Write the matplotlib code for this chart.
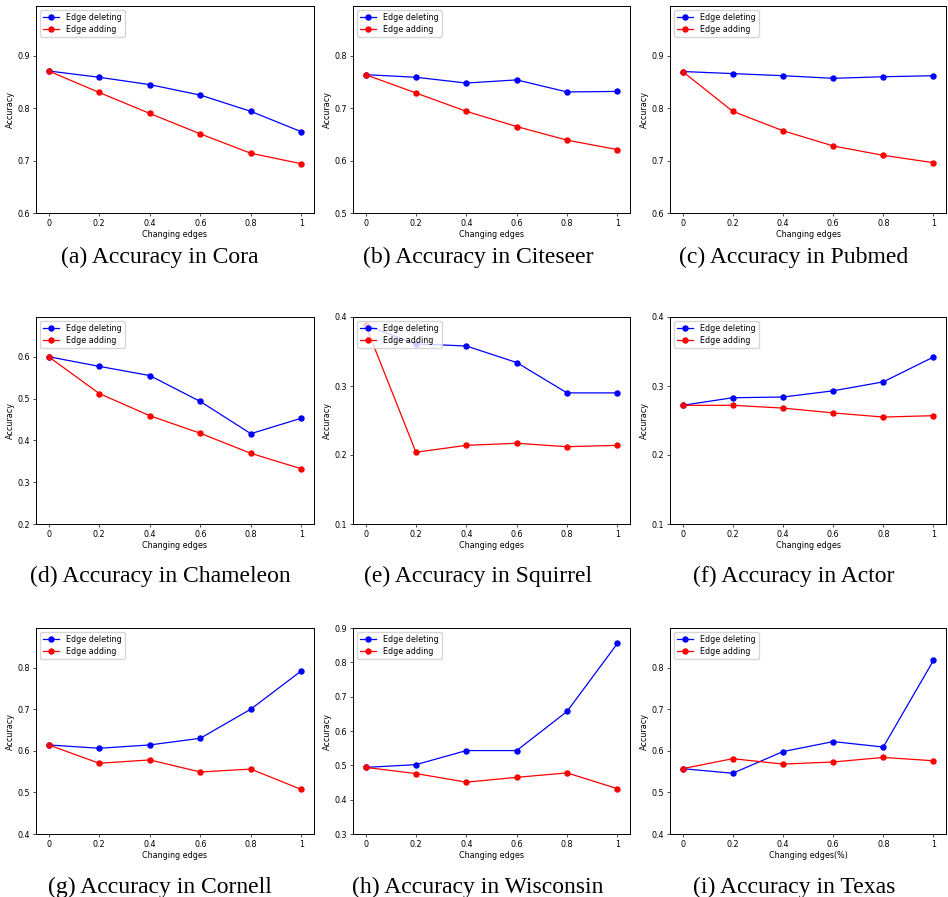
import matplotlib
matplotlib.use("Agg")
import matplotlib.pyplot as plt

x = [0, 0.2, 0.4, 0.6, 0.8, 1]
xtick_labels = ["0", "0.2", "0.4", "0.6", "0.8", "1"]

datasets = ["Cora", "Citeseer", "Pubmed", "Chameleon", "Squirrel", "Actor",
            "Cornell", "Wisconsin", "Texas"]
letters = ["a", "b", "c", "d", "e", "f", "g", "h", "i"]

cora_del = [0.871, 0.859, 0.845, 0.825, 0.794, 0.755]
cora_add = [0.871, 0.830, 0.790, 0.751, 0.714, 0.694]
citeseer_del = [0.764, 0.759, 0.748, 0.754, 0.731, 0.732]
citeseer_add = [0.764, 0.729, 0.694, 0.665, 0.639, 0.621]
pubmed_del = [0.870, 0.866, 0.862, 0.857, 0.860, 0.862]
pubmed_add = [0.870, 0.794, 0.757, 0.728, 0.710, 0.696]
chameleon_del = [0.600, 0.577, 0.555, 0.493, 0.416, 0.453]
chameleon_add = [0.600, 0.512, 0.459, 0.417, 0.369, 0.332]
squirrel_del = [0.388, 0.361, 0.358, 0.334, 0.290, 0.290]
squirrel_add = [0.388, 0.204, 0.214, 0.217, 0.212, 0.214]
actor_del = [0.272, 0.283, 0.284, 0.293, 0.306, 0.342]
actor_add = [0.272, 0.272, 0.268, 0.261, 0.255, 0.257]
cornell_del = [0.614, 0.606, 0.614, 0.630, 0.700, 0.792]
cornell_add = [0.614, 0.570, 0.578, 0.549, 0.556, 0.507]
wisconsin_del = [0.494, 0.502, 0.543, 0.543, 0.657, 0.855]
wisconsin_add = [0.494, 0.476, 0.451, 0.465, 0.478, 0.432]
texas_del = [0.557, 0.546, 0.598, 0.622, 0.609, 0.817]
texas_add = [0.557, 0.581, 0.568, 0.573, 0.584, 0.576]

deleting = [cora_del, citeseer_del, pubmed_del, chameleon_del, squirrel_del,
            actor_del, cornell_del, wisconsin_del, texas_del]
adding = [cora_add, citeseer_add, pubmed_add, chameleon_add, squirrel_add,
          actor_add, cornell_add, wisconsin_add, texas_add]
ylims = [(0.6, 0.995), (0.5, 0.895), (0.6, 0.995), (0.2, 0.695), (0.1, 0.4),
         (0.1, 0.4), (0.4, 0.895), (0.3, 0.9), (0.4, 0.895)]
yticks = [["0.6", "0.7", "0.8", "0.9"],
          ["0.5", "0.6", "0.7", "0.8"],
          ["0.6", "0.7", "0.8", "0.9"],
          ["0.2", "0.3", "0.4", "0.5", "0.6"],
          ["0.1", "0.2", "0.3", "0.4"],
          ["0.1", "0.2", "0.3", "0.4"],
          ["0.4", "0.5", "0.6", "0.7", "0.8"],
          ["0.3", "0.4", "0.5", "0.6", "0.7", "0.8", "0.9"],
          ["0.4", "0.5", "0.6", "0.7", "0.8"]]
xlabels = ["Changing edges"] * 8 + ["Changing edges(%)"]

W, H = 948, 897
fig = plt.figure(figsize=(W / 100, H / 100), dpi=100)

# pixel boxes of the axes (left, right) and (top, bottom)
cols = [(36, 314), (353, 630), (670, 946)]
rows = [(6, 213), (317, 524), (628, 834)]
caption_x = [160, 478, 794]
caption_y = [257, 576, 887]

for i in range(9):
    r, c = divmod(i, 3)
    x0, x1 = cols[c]
    t, b = rows[r]
    ax = fig.add_axes([x0 / W, 1 - b / H, (x1 - x0) / W, (b - t) / H])
    ax.plot(x, deleting[i], 'o-', color='blue', lw=0.9, ms=3.6, label='Edge deleting')
    ax.plot(x, adding[i], 'o-', color='red', lw=0.9, ms=3.6, label='Edge adding')
    ax.set_ylim(*ylims[i])
    ax.set_xticks(x)
    ax.set_xticklabels(xtick_labels)
    ax.set_yticks([float(v) for v in yticks[i]])
    ax.set_yticklabels(yticks[i])
    ax.tick_params(labelsize=5.8, length=2, width=0.5, pad=2)
    ax.set_xlabel(xlabels[i], fontsize=5.8, labelpad=1.5)
    ax.set_ylabel('Accuracy', fontsize=5.8, labelpad=2)
    for s in ax.spines.values():
        s.set_linewidth(0.7)
    ax.legend(loc='upper left', fontsize=5.8, handlelength=2, borderpad=0.4,
              labelspacing=0.3, framealpha=0.8)
    fig.text(caption_x[c] / W, 1 - caption_y[r] / H,
             f"({letters[i]}) Accuracy in {datasets[i]}",
             ha='center', va='center', fontsize=17, family='Liberation Serif')

fig.savefig('out.png', dpi=100)
